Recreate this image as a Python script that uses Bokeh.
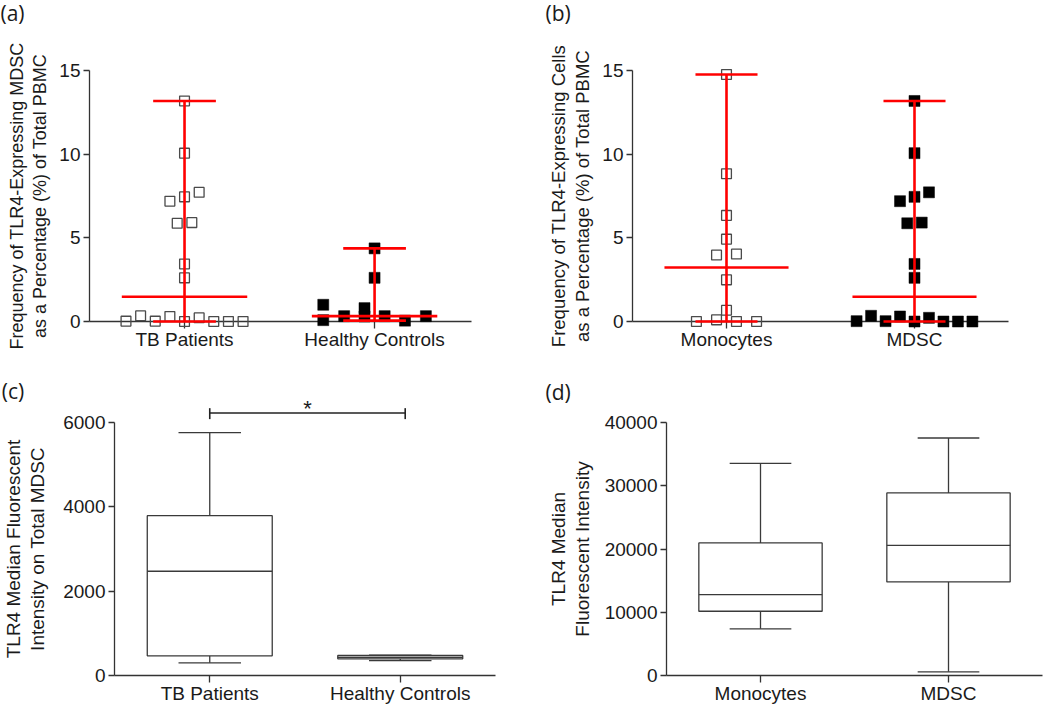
import numpy as np
from bokeh.plotting import figure
from bokeh.layouts import column, row
from bokeh.models import FixedTicker, Range1d
from bokeh.embed import file_html
from bokeh.resources import INLINE
from bokeh.core.properties import value

# ---------------- data ----------------
# (a) frequency of TLR4+ MDSC (% of PBMC)
a_categories = ["TB Patients", "Healthy Controls"]
a_tb_values = [13.18, 10.06, 7.19, 7.45, 7.72, 5.87, 5.91, 3.44, 2.61,
               0.02, 0.34, 0.02, 0.30, 0.0, 0.22, 0.0, 0.0, 0.0]
a_tb_jitter = [0.0, 0.0, -0.077, 0.0, 0.077, -0.0385, 0.0385, 0.0, 0.0,
               -0.308, -0.231, -0.154, -0.077, 0.0, 0.077, 0.154, 0.231, 0.308]
a_hc_values = [1.0, 0.08, 0.32, 0.8, 0.3, 4.37, 2.61, 0.32, 0.05, 0.32]
a_hc_jitter = [-0.27, -0.27, -0.16, -0.053, -0.053, 0.0, 0.0, 0.053, 0.16, 0.27]

# (b) frequency of TLR4+ cells (% of PBMC)
b_categories = ["Monocytes", "MDSC"]
b_mono_values = [14.76, 8.83, 6.34, 4.92, 3.97, 4.03, 2.49, 0.67, 0.0, 0.1, 0.0, 0.0]
b_mono_jitter = [0.0, 0.0, 0.0, 0.0, -0.053, 0.053, 0.0, 0.0, -0.16, -0.053, 0.053, 0.16]
b_mdsc_values = [13.18, 10.06, 7.19, 7.45, 7.72, 5.87, 5.91, 3.44, 2.61,
                 0.02, 0.34, 0.02, 0.30, 0.0, 0.22, 0.0, 0.0, 0.0]
b_mdsc_jitter = [0.0, 0.0, -0.077, 0.0, 0.077, -0.0385, 0.0385, 0.0, 0.0,
                 -0.308, -0.231, -0.154, -0.077, 0.0, 0.077, 0.154, 0.231, 0.308]

# (c) TLR4 MFI on total MDSC (box: min, q1, median, q3, max)
c_categories = ["TB Patients", "Healthy Controls"]
c_min = [300, 355]
c_q1 = [466, 395]
c_median = [2472, 430]
c_q3 = [3791, 474]
c_max = [5758, 480]
c_sig_x = [1.0, 2.026]
c_sig_y = 6225
c_sig_tick = [6080, 6340]
c_sig_text = "*"
c_sig_text_y = 6330

# (d) TLR4 MFI
d_categories = ["Monocytes", "MDSC"]
d_min = [7377, 585]
d_q1 = [10158, 14802]
d_median = [12796, 20584]
d_q3 = [20963, 28863]
d_max = [33539, 37551]

# ---------------- style ----------------
FONT = "Liberation Sans"
LETTER_FONT = "Open Sans"
AXIS_COLOR = "#333333"
TEXT_COLOR = "#1a1a1a"
RED = "#ff0000"
BOX_COLOR = "#3a3a3a"


def make_fig(w, h, bl, br, bt, bb, xr, yr, yticks, cats, ylabel, letter, letter_xy,
             label_standoff, label_size="19px"):
    p = figure(width=w, height=h, x_range=Range1d(*xr), y_range=Range1d(*yr),
               output_backend="svg", toolbar_location=None,
               min_border_left=bl, min_border_right=br,
               min_border_top=bt, min_border_bottom=bb)
    p.grid.visible = False
    p.outline_line_color = None
    p.background_fill_color = "white"
    p.border_fill_color = "white"
    xa = p.xaxis[0]
    ya = p.yaxis[0]
    pos = list(range(1, len(cats) + 1))
    xa.ticker = FixedTicker(ticks=pos)
    xa.major_label_overrides = {k: c for k, c in zip(pos, cats)}
    ya.ticker = FixedTicker(ticks=yticks)
    for ax in (xa, ya):
        ax.axis_line_color = AXIS_COLOR
        ax.axis_line_width = 1.3
        ax.major_tick_line_color = AXIS_COLOR
        ax.major_tick_line_width = 1.3
        ax.minor_tick_line_color = None
        ax.major_tick_in = 0
        ax.major_label_text_font = FONT
        ax.major_label_text_font_size = "19px"
        ax.major_label_text_color = TEXT_COLOR
    ya.major_tick_out = 6
    ya.major_label_standoff = 3
    xa.major_tick_out = 7
    xa.major_label_standoff = 0
    ya.axis_label = ylabel
    ya.axis_label_text_font = FONT
    ya.axis_label_text_font_size = label_size
    ya.axis_label_text_font_style = "normal"
    ya.axis_label_text_color = TEXT_COLOR
    ya.axis_label_text_line_height = 1.15
    ya.axis_label_standoff = label_standoff
    # panel letter, placed in data units derived from the fixed frame geometry
    fw = w - bl - br
    fh = h - bt - bb
    lx, ly = letter_xy
    dx = xr[0] + (lx - bl) * (xr[1] - xr[0]) / fw
    dy = yr[0] + ((h - bb) - ly) * (yr[1] - yr[0]) / fh
    p.text(x=[dx], y=[dy], text=[letter], text_baseline="middle", text_align="left",
           text_font=value(LETTER_FONT), text_font_size="21px",
           text_color=TEXT_COLOR, level="overlay")
    return p


def add_dots(p, pos, values, jitter, filled):
    x = pos + np.asarray(jitter, dtype=float)
    y = np.asarray(values, dtype=float)
    if filled:
        p.scatter(x, y, marker="square", size=11, fill_color="#000000",
                  line_color="#000000", line_width=0.5, level="overlay")
    else:
        p.scatter(x, y, marker="square", size=9.8, fill_color=None,
                  line_color="#4a4a4a", line_width=1.3, level="overlay")
    med, lo, hi = np.median(y), y.min(), y.max()
    p.segment(x0=[pos, pos - 0.165, pos - 0.165, pos - 0.33],
              y0=[lo, hi, lo, med],
              x1=[pos, pos + 0.165, pos + 0.165, pos + 0.33],
              y1=[hi, hi, lo, med],
              line_color=RED, line_width=2.6, level="overlay")


def add_boxes(p, mins, q1, med, q3, maxs):
    x = np.arange(1, len(mins) + 1, dtype=float)
    p.segment(x0=x, y0=q3, x1=x, y1=maxs, line_color=BOX_COLOR, line_width=1.3)
    p.segment(x0=x, y0=q1, x1=x, y1=mins, line_color=BOX_COLOR, line_width=1.3)
    p.segment(x0=x - 0.164, y0=maxs, x1=x + 0.164, y1=maxs, line_color=BOX_COLOR, line_width=1.3)
    p.segment(x0=x - 0.164, y0=mins, x1=x + 0.164, y1=mins, line_color=BOX_COLOR, line_width=1.3)
    p.vbar(x=x, bottom=q1, top=q3, width=0.656, fill_color="white",
           line_color=BOX_COLOR, line_width=1.3)
    p.segment(x0=x - 0.328, y0=med, x1=x + 0.328, y1=med, line_color=BOX_COLOR, line_width=1.3)


# panel (a): canvas x 0..520, y 0..352
pa = make_fig(520, 352, 89, 49, 70, 29, (0.5, 2.51), (0, 15), [0, 5, 10, 15], a_categories,
              "Frequency of TLR4-Expressing MDSC\nas a Percentage (%) of Total PBMC",
              "(a)", (0, 12), 6, "18px")
add_dots(pa, 1, a_tb_values, a_tb_jitter, filled=False)
add_dots(pa, 2, a_hc_values, a_hc_jitter, filled=True)

# panel (b): canvas x 520..1050, y 0..352
pb = make_fig(530, 352, 112, 42, 70, 29, (0.5, 2.5), (0, 15), [0, 5, 10, 15], b_categories,
              "Frequency of TLR4-Expressing Cells\nas a Percentage (%) of Total PBMC",
              "(b)", (25, 12), 6, "18.5px")
add_dots(pb, 1, b_mono_values, b_mono_jitter, filled=False)
add_dots(pb, 2, b_mdsc_values, b_mdsc_jitter, filled=True)

# panel (c): canvas x 0..520, y 352..707
pc = make_fig(520, 355, 113, 25, 70, 32, (0.5, 2.5), (0, 6000), [0, 2000, 4000, 6000],
              c_categories, "TLR4 Median Fluorescent\nIntensity on Total MDSC",
              "(c)", (0, 38), 12)
add_boxes(pc, c_min, c_q1, c_median, c_q3, c_max)
pc.segment(x0=[c_sig_x[0], c_sig_x[0], c_sig_x[1]],
           y0=[c_sig_y, c_sig_tick[0], c_sig_tick[0]],
           x1=[c_sig_x[1], c_sig_x[0], c_sig_x[1]],
           y1=[c_sig_y, c_sig_tick[1], c_sig_tick[1]],
           line_color="#222222", line_width=1.6, level="overlay")
pc.text(x=[(c_sig_x[0] + c_sig_x[1]) / 2], y=[c_sig_text_y], text=[c_sig_text],
        text_font=value(FONT), text_font_size="22px", text_align="center",
        text_baseline="alphabetic", text_color=TEXT_COLOR, level="overlay")

# panel (d): canvas x 520..1050, y 352..707
pd_ = make_fig(530, 355, 146, 8, 70, 32, (0.5, 2.5), (0, 40000),
               [0, 10000, 20000, 30000, 40000], d_categories,
               "TLR4 Median\nFluorescent Intensity", "(d)", (25, 39), 9)
add_boxes(pd_, d_min, d_q1, d_median, d_q3, d_max)

layout = column(row(pa, pb), row(pc, pd_))
open("out.html", "w").write(file_html(layout, INLINE))
